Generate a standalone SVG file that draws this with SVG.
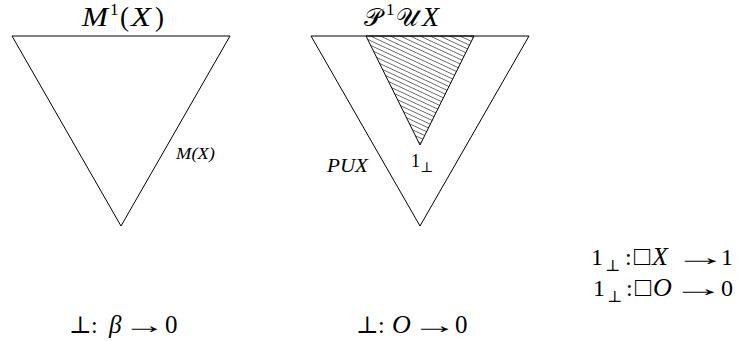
<svg xmlns="http://www.w3.org/2000/svg" width="744" height="341" viewBox="0 0 744 341">
<style>
  .tri { fill: none; stroke: #000; stroke-width: 1; stroke-linejoin: miter; }
  text { font-family: "Liberation Serif", "DejaVu Serif", serif; fill: #000; }
  .i { font-style: italic; }
  .ar { font-family: "Liberation Serif", "DejaVu Serif", serif; letter-spacing: -4.4px; }
</style>
<defs>
  <pattern id="hatch" patternUnits="userSpaceOnUse" width="8" height="4.2" patternTransform="rotate(25)">
    <line x1="0" y1="2.1" x2="8" y2="2.1" stroke="#111" stroke-width="0.6"/>
  </pattern>
</defs>
<rect width="744" height="341" fill="#fff"/>

<g id="node-M1X">
  <polygon class="tri" points="12,36 230,36 121,226"/>
  <text class="i" x="82" y="26" font-size="28" textLength="26" lengthAdjust="spacingAndGlyphs">M</text>
  <text x="110" y="15" font-size="17">1</text>
  <text x="120" y="26" font-size="27">(</text>
  <text class="i" x="131" y="26" font-size="28" textLength="20" lengthAdjust="spacingAndGlyphs">X</text>
  <text x="155" y="26" font-size="27">)</text>
  <text class="i" x="176" y="159" font-size="17" textLength="39" lengthAdjust="spacingAndGlyphs">M(X)</text>
</g>

<g id="node-P1UX">
  <polygon class="tri" points="311,36 529,36 420,226"/>
  <polygon points="366,36 474,36 420,145" fill="url(#hatch)" stroke="#000" stroke-width="1"/>
  <text x="364" y="26" font-size="25">𝒫</text>
  <text x="386" y="15" font-size="17">1</text>
  <text x="396" y="26" font-size="25">𝒰</text>
  <text class="i" x="422" y="26" font-size="28">X</text>
  <text class="i" x="327" y="172" font-size="18" textLength="41" lengthAdjust="spacingAndGlyphs">PUX</text>
  <text x="411" y="167" font-size="18">1</text>
  <text x="420" y="172" font-size="14">⊥</text>
</g>

<g id="node-rules">
  <text x="591" y="265" font-size="24">1</text>
  <text x="605" y="271" font-size="16">⊥</text>
  <text x="625" y="265" font-size="24">:</text>
  <text x="634" y="265" font-size="27">□</text>
  <text class="i" x="652" y="265" font-size="26">X</text>
  <text class="ar" font-size="24" transform="translate(674,265) scale(2.19,1)">→</text>
  <text x="721" y="265" font-size="24">1</text>

  <text x="593" y="296" font-size="24">1</text>
  <text x="607" y="302" font-size="16">⊥</text>
  <text x="626" y="296" font-size="24">:</text>
  <text x="635" y="296" font-size="27">□</text>
  <text class="i" x="653" y="296" font-size="26">O</text>
  <text class="ar" font-size="24" transform="translate(672,296) scale(2.19,1)">→</text>
  <text x="721" y="296" font-size="24">0</text>
</g>

<g id="node-bottom-left">
  <text x="69" y="333" font-size="24">⊥</text>
  <text x="91" y="333" font-size="24">:</text>
  <text class="i" x="109" y="333" font-size="25">β</text>
  <text class="ar" font-size="24" transform="translate(123.1,333) scale(1.78,1)">→</text>
  <text x="165" y="333" font-size="25">0</text>
</g>

<g id="node-bottom-right">
  <text x="356" y="333" font-size="24">⊥</text>
  <text x="378" y="333" font-size="24">:</text>
  <text class="i" x="392" y="333" font-size="26">O</text>
  <text class="ar" font-size="24" transform="translate(411.4,333) scale(1.92,1)">→</text>
  <text x="455" y="333" font-size="25">0</text>
</g>

<g id="connectors"/>
</svg>
